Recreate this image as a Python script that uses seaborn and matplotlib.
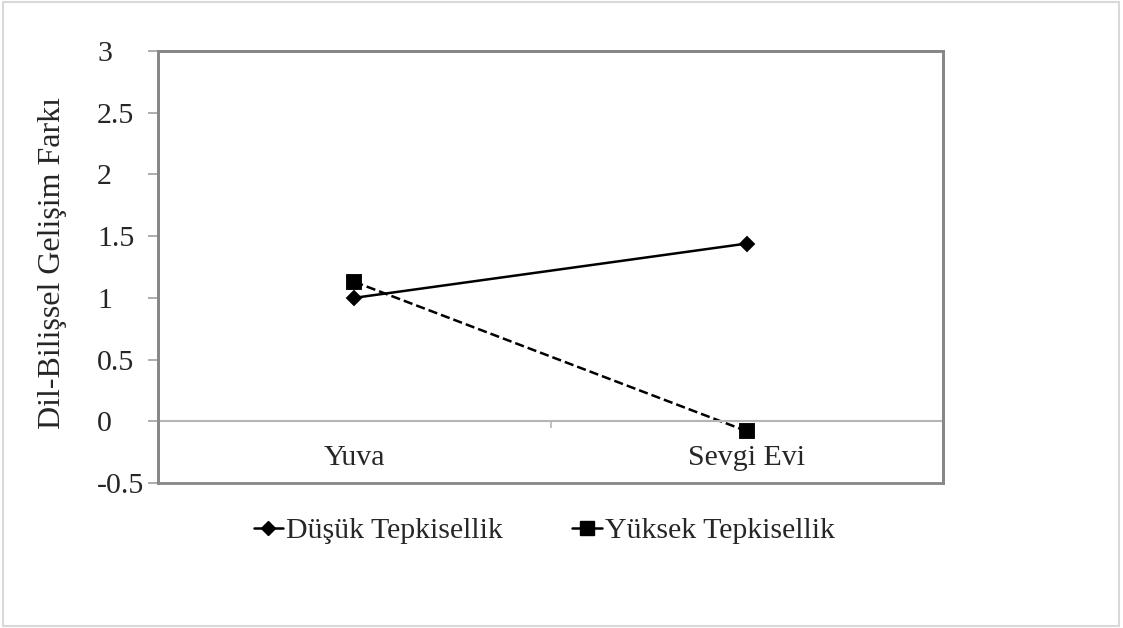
import matplotlib
matplotlib.use("Agg")
import matplotlib.pyplot as plt
import seaborn as sns
import pandas as pd
from matplotlib.patches import Rectangle
from matplotlib.lines import Line2D

categories = ["Yuva", "Sevgi Evi"]
dusuk = [1.00, 1.44]
yuksek = [1.13, -0.08]
series_names = ["Düşük Tepkisellik", "Yüksek Tepkisellik"]
y_ticks = [-0.5, 0, 0.5, 1, 1.5, 2, 2.5, 3]
y_label = "Dil-Bilişsel Gelişim Farkı"

df = pd.DataFrame({
    "Kurum": categories * 2,
    "Fark": dusuk + yuksek,
    "Grup": [series_names[0]] * 2 + [series_names[1]] * 2,
})

sns.set_theme(style="white")
plt.rcParams["font.family"] = ["Liberation Serif", "DejaVu Serif"]
FS = 21.5

W, H = 1123, 628
fig = plt.figure(figsize=(W / 100, H / 100), dpi=100)
ax = fig.add_axes([158 / W, (H - 483) / H, (943 - 158) / W, (483 - 51) / H])

sns.pointplot(data=df, x="Kurum", y="Fark", hue="Grup", order=categories,
              hue_order=series_names, palette=["black", "black"],
              markers=["D", "s"], linestyles=["-", "--"], ax=ax,
              legend=False, markersize=8, linewidth=1.8)
for ln in ax.lines:
    if ln.get_marker() == "D":
        ln.set_markersize(7.5)
    elif ln.get_marker() == "s":
        ln.set_markersize(9.5)

ax.set_xlim(-0.5, 1.5)
ax.set_ylim(-0.5, 3)
ax.set_yticks(y_ticks)
ax.set_yticklabels([f"{t:g}" for t in y_ticks], fontsize=FS, ha="left")
ax.set_ylabel(y_label, fontsize=23)
ax.yaxis.set_label_coords((67 - 158) / (943 - 158), 0.509)
ax.set_xlabel("")

frame_color = "#878787"
for s in ["left", "top", "right"]:
    ax.spines[s].set_color(frame_color)
    ax.spines[s].set_linewidth(2)
ax.spines["bottom"].set_position(("data", 0))
ax.spines["bottom"].set_color("#b5b5b5")
ax.spines["bottom"].set_linewidth(1.5)
ax.add_patch(Rectangle((0, 0), 1, 1, transform=ax.transAxes, fill=False,
                       edgecolor=frame_color, linewidth=2, clip_on=False, zorder=5))

tick_len = 7
pad_pt = (158 - 97) * 0.72 - tick_len
ax.tick_params(axis="y", direction="out", length=tick_len, width=1.2, color="#a0a0a0",
               left=True, pad=pad_pt)
ax.tick_params(axis="x", which="major", length=0, labelsize=FS, pad=17)
ax.set_xticks([0.5], minor=True)
ax.tick_params(axis="x", which="minor", direction="out", length=5, width=1.2,
               color="#b5b5b5", bottom=True)
for t in ax.get_xticklabels():
    t.set_fontsize(FS)

handles = [
    Line2D([], [], color="black", linestyle="-", marker="D", markersize=7.5, linewidth=1.8),
    Line2D([], [], color="black", linestyle="-", marker="s", markersize=9.5, linewidth=1.8),
]
fig.legend(handles, series_names, loc="center", bbox_to_anchor=(544 / W, 1 - 531 / H),
           ncol=2, frameon=False, fontsize=FS, handlelength=1.0, handletextpad=0.1,
           columnspacing=2.3)

fig.add_artist(Rectangle((3 / W, 2 / H), (1119 - 3) / W, (626 - 2) / H,
                         transform=fig.transFigure, fill=False,
                         edgecolor="#d9d9d9", linewidth=1.5))

fig.savefig("out.png", dpi=100, facecolor="white")
